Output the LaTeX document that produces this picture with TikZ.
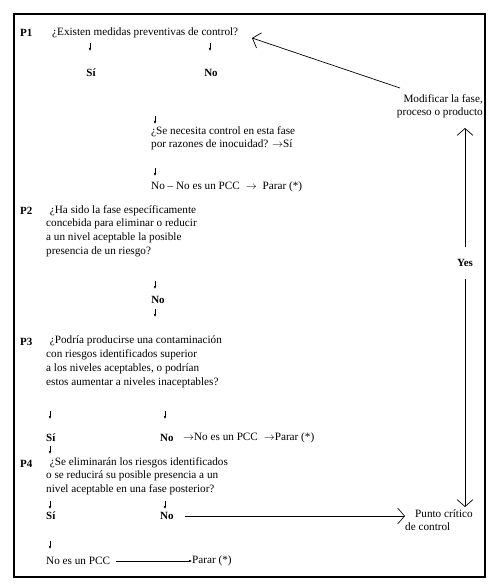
\documentclass[tikz,border=0pt]{standalone}
\usepackage{fontspec}
\setmainfont{Liberation Serif}
\usetikzlibrary{arrows.meta}
\begin{document}
\begin{tikzpicture}[x=1pt,y=-1pt,
  txt/.style={inner sep=0pt,anchor=west,font=\fontsize{11.2}{13.6}\selectfont},
  para/.style={inner sep=0pt,anchor=north west,align=left,font=\fontsize{11.2}{13.8}\selectfont},
  lab/.style={inner sep=0pt,anchor=west,font=\fontsize{11}{13.6}\selectfont\bfseries},
  tiny/.style={-{Latex[length=3pt,width=2.6pt]},line width=0.5pt},
  big/.style={-{Straight Barb[length=7pt,width=16pt]},line width=0.7pt},
  thin/.style={-{Latex[length=3pt,width=2.6pt]},line width=0.5pt}]
\useasboundingbox (0,0) rectangle (500,588);
\draw[line width=1.1pt] (14,14) rectangle (485,577);

% P1
\node[lab] (p1) at (20,33) {P1};
\node[txt] (q1) at (52,33) {¿Existen medidas preventivas de control?};
\coordinate (a1s) at (90,43); \coordinate (a1e) at (90,51);
\coordinate (a2s) at (210,43); \coordinate (a2e) at (210,51);
\draw[tiny] (a1s) -- (a1e);
\draw[tiny] (a2s) -- (a2e);
\node[lab,anchor=center] (si1) at (91,73) {Sí};
\node[lab,anchor=center] (no1) at (211,73) {No};

% Modificar
\node[inner sep=0pt,anchor=east,align=right,font=\fontsize{11.2}{13}\selectfont] (mod) at (483,106) {Modificar la fase,\\proceso o producto};
\coordinate (m1) at (400,88);
\coordinate (q1t) at (252,38);
\draw[big] (m1) -- (q1t);

% Yes column
\node[lab,anchor=center] (yes) at (465,263) {Yes};
\coordinate (uptop) at (465,128);
\coordinate (dnbot) at (465,507);
\draw[big] (yes.north) ++(0,-12) coordinate (ys) -- (uptop);
\draw[big] (yes.south) ++(0,12) coordinate (yd) -- (dnbot);

% Q control
\coordinate (a3s) at (155,116); \coordinate (a3e) at (155,124);
\draw[tiny] (a3s) -- (a3e);
\node[para] (qc) at (151,126) {¿Se necesita control en esta fase\\por razones de inocuidad? $\rightarrow$Sí};
\coordinate (a4s) at (155,168); \coordinate (a4e) at (155,176);
\draw[tiny] (a4s) -- (a4e);
\node[txt] (nopcc1) at (151,187) {No -- No es un PCC \;$\rightarrow$\; Parar (*)};

% P2
\node[lab] (p2) at (20,211) {P2};
\node[para] (q2) at (46,205) {\,\,¿Ha sido la fase específicamente\\concebida para eliminar o reducir\\a un nivel aceptable la posible\\presencia de un riesgo?};
\coordinate (a5s) at (155,281); \coordinate (a5e) at (155,289);
\draw[tiny] (a5s) -- (a5e);
\node[lab,anchor=center] (no2) at (158,300) {No};
\coordinate (a6s) at (155,309); \coordinate (a6e) at (155,317);
\draw[tiny] (a6s) -- (a6e);

% P3
\node[lab] (p3) at (20,342) {P3};
\node[para] (q3) at (46,336) {\,\,¿Podría producirse una contaminación\\con riesgos identificados superior\\a los niveles aceptables, o podrían\\estos aumentar a niveles inaceptables?};
\coordinate (a7s) at (50,411); \coordinate (a7e) at (50,419);
\draw[tiny] (a7s) -- (a7e);
\coordinate (a8s) at (165,411); \coordinate (a8e) at (165,419);
\draw[tiny] (a8s) -- (a8e);
\node[lab] (si3) at (46,438) {Sí};
\node[lab] (no3) at (160,438) {No};
\node[txt] (nopcc3) at (183,438) {$\rightarrow$No es un PCC \;$\rightarrow$Parar (*)};
\coordinate (a9s) at (50,446); \coordinate (a9e) at (50,454);
\draw[tiny] (a9s) -- (a9e);

% P4
\node[lab] (p4) at (20,464) {P4};
\node[para] (q4) at (46,457) {\,\,¿Se eliminarán los riesgos identificados\\o se reducirá su posible presencia a un\\nivel aceptable en una fase posterior?};
\coordinate (b1s) at (50,501); \coordinate (b1e) at (50,509);
\draw[tiny] (b1s) -- (b1e);
\coordinate (b2s) at (165,501); \coordinate (b2e) at (165,509);
\draw[tiny] (b2s) -- (b2e);
\node[lab] (si4) at (46,516) {Sí};
\node[lab] (no4) at (160,516) {No};
\node[para,font=\fontsize{11.2}{13}\selectfont] (pcc) at (405,510) {\hspace{10pt}Punto crítico\\de control};
\coordinate (nb) at (185,516);
\coordinate (pt) at (405,516);
\draw[big,line width=0.6pt] (nb) -- (pt);
\coordinate (b3s) at (50,541); \coordinate (b3e) at (50,549);
\draw[tiny] (b3s) -- (b3e);
\node[txt] (nopcc4) at (46,561) {No es un PCC};
\node[txt] (parar4) at (192,561) {Parar (*)};
\draw[thin] (nopcc4.east) ++(6,0) -- (parar4.west);
\end{tikzpicture}
\end{document}
